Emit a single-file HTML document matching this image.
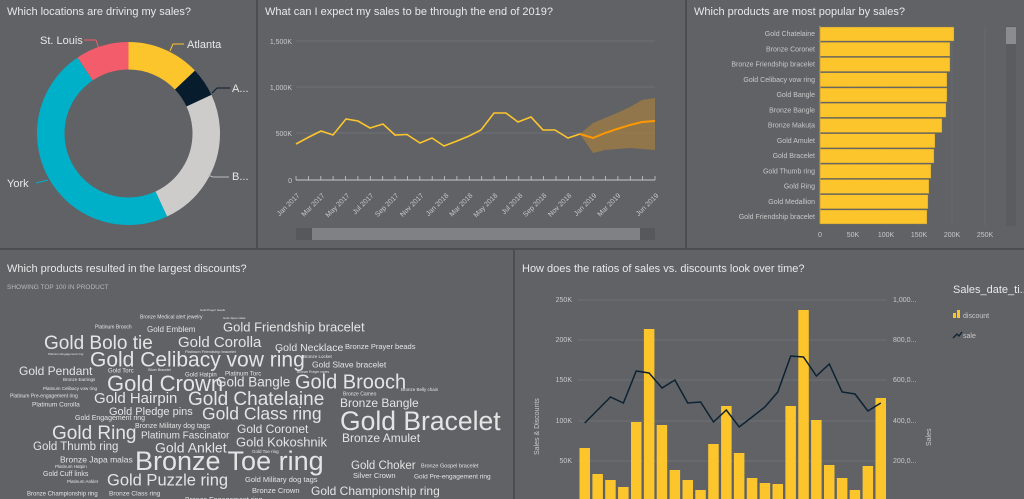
<!DOCTYPE html>
<html><head><meta charset="utf-8"><style>
html,body{margin:0;padding:0;background:#606266;width:1024px;height:499px;overflow:hidden}
svg{display:block;font-family:"Liberation Sans",sans-serif}
.t{fill:#e8e8e8;font-size:11px}
.ax{fill:#c8c8c8;font-size:7px}
.w{fill:#e4e4e4}
</style></head><body>
<svg width="1024" height="499" viewBox="0 0 1024 499">
<rect width="1024" height="499" fill="#606266"/>
<g stroke="#4b4d51" stroke-width="2">
<line x1="257" y1="0" x2="257" y2="249"/><line x1="686" y1="0" x2="686" y2="249"/>
<line x1="0" y1="249" x2="1024" y2="249"/><line x1="514" y1="249" x2="514" y2="499"/>
</g>
<text class="t" x="7" y="15">Which locations are driving my sales?</text>
<g transform="rotate(-90 128.5 133.5)" fill="none" stroke-width="27.5">
<circle cx="128.5" cy="133.5" r="77.75" stroke="#fdc52c" stroke-dasharray="63.2 500"/>
<circle cx="128.5" cy="133.5" r="77.75" stroke="#071c2c" stroke-dasharray="25 500" stroke-dashoffset="-63.2"/>
<circle cx="128.5" cy="133.5" r="77.75" stroke="#cdcccb" stroke-dasharray="122.1 500" stroke-dashoffset="-88.2"/>
<circle cx="128.5" cy="133.5" r="77.75" stroke="#00b0c8" stroke-dasharray="232 500" stroke-dashoffset="-210.3"/>
<circle cx="128.5" cy="133.5" r="77.75" stroke="#f35c6a" stroke-dasharray="46.3 500" stroke-dashoffset="-442.4"/>
</g>
<g fill="none" stroke-width="1">
<polyline points="84,40 96,40 99,49" stroke="#f35c6a"/>
<polyline points="170,51 173,44 184,44" stroke="#fdc52c"/>
<polyline points="212,93 217,88 230,88" stroke="#071c2c"/>
<polyline points="208,175 213,177 229,177" stroke="#bbb"/>
<polyline points="36,183 48,180" stroke="#00b0c8"/>
</g>
<g class="t" font-size="11"><text x="40" y="44">St. Louis</text><text x="187" y="48">Atlanta</text><text x="232" y="92">A...</text><text x="232" y="180">B...</text><text x="7" y="187">York</text></g>

<text class="t" x="265" y="15">What can I expect my sales to be through the end of 2019?</text>
<g stroke="#74767b" stroke-width="0.7"><line x1="296" y1="41" x2="655" y2="41"/><line x1="296" y1="87" x2="655" y2="87"/><line x1="296" y1="133" x2="655" y2="133"/></g>
<g class="ax" text-anchor="end"><text x="292" y="44">1,500K</text><text x="292" y="90">1,000K</text><text x="292" y="136">500K</text><text x="292" y="183">0</text></g>
<line x1="296" y1="180" x2="655" y2="180" stroke="#c8c8c8" stroke-width="1"/>
<g stroke="#c8c8c8" stroke-width="0.8">
<path d="M296 176v4M308.4 176v4M320.8 176v4M333.1 176v4M345.5 176v4M357.9 176v4M370.3 176v4M382.7 176v4M395 176v4M407.4 176v4M419.8 176v4M432.2 176v4M444.6 176v4M456.9 176v4M469.3 176v4M481.7 176v4M494.1 176v4M506.5 176v4M518.8 176v4M531.2 176v4M543.6 176v4M556 176v4M568.4 176v4M580.7 176v4M593.1 176v4M605.5 176v4M617.9 176v4M630.3 176v4M642.6 176v4M655 176v4"/></g>
<path d="M580,134 L593,123 L605,118 L617,113 L630,107 L642,100 L655,98 L655,150 L642,149 L630,148 L617,149 L605,150 L593,153 Z" fill="#9a7a48" opacity="0.85"/>
<polyline fill="none" stroke="#fdc52c" stroke-width="1.6" points="296,144 309,137 321,131 333,135 346,119 358,121 370,128 383,124 395,135 407,134.5 420,143 432,138 444,146 457,141 469,136 481,130 494,113 506,113 518,122 531,117 543,130 555,130 568,138 580,134"/>
<polyline fill="none" stroke="#ff9800" stroke-width="2" points="580,134 593,138 605,133 617,129 630,125 642,122 655,121"/>
<g class="ax" font-size="6.5">
<text transform="translate(300,196) rotate(-45)" text-anchor="end">Jan 2017</text>
<text transform="translate(325,196) rotate(-45)" text-anchor="end">Mar 2017</text>
<text transform="translate(350,196) rotate(-45)" text-anchor="end">May 2017</text>
<text transform="translate(374,196) rotate(-45)" text-anchor="end">Jul 2017</text>
<text transform="translate(399,196) rotate(-45)" text-anchor="end">Sep 2017</text>
<text transform="translate(424,196) rotate(-45)" text-anchor="end">Nov 2017</text>
<text transform="translate(449,196) rotate(-45)" text-anchor="end">Jan 2018</text>
<text transform="translate(473,196) rotate(-45)" text-anchor="end">Mar 2018</text>
<text transform="translate(498,196) rotate(-45)" text-anchor="end">May 2018</text>
<text transform="translate(523,196) rotate(-45)" text-anchor="end">Jul 2018</text>
<text transform="translate(547,196) rotate(-45)" text-anchor="end">Sep 2018</text>
<text transform="translate(572,196) rotate(-45)" text-anchor="end">Nov 2018</text>
<text transform="translate(597,196) rotate(-45)" text-anchor="end">Jan 2019</text>
<text transform="translate(621,196) rotate(-45)" text-anchor="end">Mar 2019</text>
<text transform="translate(659,196) rotate(-45)" text-anchor="end">Jun 2019</text>
</g>
<rect x="296" y="228" width="359" height="12" fill="#56585c"/>
<rect x="312" y="228" width="328" height="12" fill="#7f8185"/>

<text class="t" x="694" y="15">Which products are most popular by sales?</text>
<g stroke="#6e7075" stroke-width="0.7"><line x1="853" y1="26" x2="853" y2="226"/><line x1="886" y1="26" x2="886" y2="226"/><line x1="919" y1="26" x2="919" y2="226"/><line x1="952" y1="26" x2="952" y2="226"/><line x1="985" y1="26" x2="985" y2="226"/></g>
<line x1="820" y1="26" x2="820" y2="224" stroke="#c8c8c8" stroke-width="0.8"/>
<g fill="#fdc52c" stroke="#8a7a4a" stroke-width="0.4">
<rect x="820" y="27" width="134" height="14"/><rect x="820" y="42.3" width="130" height="14"/><rect x="820" y="57.5" width="130" height="14"/><rect x="820" y="72.8" width="127" height="14"/><rect x="820" y="88" width="127" height="14"/><rect x="820" y="103.3" width="126" height="14"/><rect x="820" y="118.5" width="122" height="14"/><rect x="820" y="133.8" width="115" height="14"/><rect x="820" y="149" width="114" height="14"/><rect x="820" y="164.3" width="111" height="14"/><rect x="820" y="179.5" width="109" height="14"/><rect x="820" y="194.8" width="108" height="14"/><rect x="820" y="210" width="107" height="14"/>
</g>
<g class="ax" text-anchor="end" font-size="7" fill="#e0e0e0">
<text x="815" y="36">Gold Chatelaine</text><text x="815" y="51.3">Bronze Coronet</text><text x="815" y="66.5">Bronze Friendship bracelet</text><text x="815" y="81.8">Gold Celibacy vow ring</text><text x="815" y="97">Gold Bangle</text><text x="815" y="112.3">Bronze Bangle</text><text x="815" y="127.5">Bronze Makuṭa</text><text x="815" y="142.8">Gold Amulet</text><text x="815" y="158">Gold Bracelet</text><text x="815" y="173.3">Gold Thumb ring</text><text x="815" y="188.5">Gold Ring</text><text x="815" y="203.8">Gold Medallion</text><text x="815" y="219">Gold Friendship bracelet</text>
</g>
<g class="ax" text-anchor="middle"><text x="820" y="237">0</text><text x="853" y="237">50K</text><text x="886" y="237">100K</text><text x="919" y="237">150K</text><text x="952" y="237">200K</text><text x="985" y="237">250K</text></g>
<rect x="1006" y="26" width="10" height="200" fill="#5a5c60"/>
<rect x="1006" y="27" width="10" height="17" fill="#8a8c90"/>

<text class="t" x="7" y="272">Which products resulted in the largest discounts?</text>
<text x="7" y="289" fill="#b8b8b8" font-size="6.5">SHOWING TOP 100 IN PRODUCT</text>
<g class="w" dominant-baseline="middle">
<text x="200" y="310" font-size="3">Gold Prayer beads</text>
<text x="140" y="317" font-size="5">Bronze Medical alert jewelry</text>
<text x="223" y="318" font-size="3">Gold Japa malas</text>
<text x="95" y="327" font-size="5">Platinum Brooch</text>
<text x="147" y="330" font-size="8">Gold Emblem</text>
<text x="223" y="328" font-size="13">Gold Friendship bracelet</text>
<text x="44" y="344" font-size="19">Gold Bolo tie</text>
<text x="178" y="343" font-size="15">Gold Corolla</text>
<text x="275" y="348" font-size="10.5">Gold Necklace</text>
<text x="345" y="347" font-size="7.5">Bronze Prayer beads</text>
<text x="90" y="361" font-size="21">Gold Celibacy vow ring</text>
<text x="48" y="354" font-size="3">Platinum Engagement ring</text>
<text x="185" y="352" font-size="4">Platinum Friendship bracelet</text>
<text x="303" y="357" font-size="4.5">Bronze Locket</text>
<text x="312" y="365" font-size="8.5">Gold Slave bracelet</text>
<text x="19" y="372" font-size="12">Gold Pendant</text>
<text x="108" y="371" font-size="6">Gold Torc</text>
<text x="148" y="370" font-size="3.5">Silver Bracelet</text>
<text x="185" y="375" font-size="6">Gold Hatpin</text>
<text x="225" y="374" font-size="6">Platinum Torc</text>
<text x="297" y="372" font-size="3.5">Bronze Prayer ropes</text>
<text x="63" y="380" font-size="4.5">Bronze Earrings</text>
<text x="107" y="385" font-size="22">Gold Crown</text>
<text x="216" y="383" font-size="13.5">Gold Bangle</text>
<text x="295" y="383" font-size="20">Gold Brooch</text>
<text x="401" y="390" font-size="4.5">Bronze Belly chain</text>
<text x="43" y="389" font-size="4.5">Platinum Celibacy vow ring</text>
<text x="10" y="396" font-size="5">Platinum Pre-engagement ring</text>
<text x="343" y="394" font-size="5">Bronze Cameo</text>
<text x="94" y="399" font-size="15">Gold Hairpin</text>
<text x="188" y="400" font-size="19">Gold Chatelaine</text>
<text x="340" y="404" font-size="12">Bronze Bangle</text>
<text x="32" y="405" font-size="6.5">Platinum Corolla</text>
<text x="109" y="412" font-size="11">Gold Pledge pins</text>
<text x="202" y="415" font-size="17.5">Gold Class ring</text>
<text x="75" y="418" font-size="7">Gold Engagement ring</text>
<text x="340" y="423" font-size="26.5">Gold Bracelet</text>
<text x="135" y="426" font-size="7">Bronze Military dog tags</text>
<text x="52" y="434" font-size="19">Gold Ring</text>
<text x="141" y="436" font-size="10">Platinum Fascinator</text>
<text x="237" y="430" font-size="12">Gold Coronet</text>
<text x="342" y="439" font-size="12">Bronze Amulet</text>
<text x="33" y="447" font-size="11.5">Gold Thumb ring</text>
<text x="236" y="443" font-size="13">Gold Kokoshnik</text>
<text x="155" y="449" font-size="14">Gold Anklet</text>
<text x="135" y="463" font-size="27">Bronze Toe ring</text>
<text x="60" y="460" font-size="8.5">Bronze Japa malas</text>
<text x="252" y="452" font-size="4.5">Gold Toe ring</text>
<text x="351" y="466" font-size="11.5">Gold Choker</text>
<text x="421" y="466" font-size="5.5">Bronze Gospel bracelet</text>
<text x="353" y="476" font-size="7.5">Silver Crown</text>
<text x="43" y="474" font-size="7">Gold Cuff links</text>
<text x="55" y="467" font-size="4.5">Platinum Hatpin</text>
<text x="67" y="482" font-size="4.5">Platinum Anklet</text>
<text x="107" y="481" font-size="16.5">Gold Puzzle ring</text>
<text x="245" y="480" font-size="7.5">Gold Military dog tags</text>
<text x="414" y="477" font-size="6.5">Gold Pre-engagement ring</text>
<text x="252" y="491" font-size="7.5">Bronze Crown</text>
<text x="311" y="492" font-size="12">Gold Championship ring</text>
<text x="27" y="494" font-size="6">Bronze Championship ring</text>
<text x="109" y="494" font-size="6.5">Bronze Class ring</text>
<text x="185" y="500" font-size="7">Bronze Engagement ring</text>
</g>

<text class="t" x="522" y="272">How does the ratios of sales vs. discounts look over time?</text>
<g stroke="#74767b" stroke-width="0.7"><line x1="578" y1="300" x2="887" y2="300"/><line x1="578" y1="340" x2="887" y2="340"/><line x1="578" y1="380" x2="887" y2="380"/><line x1="578" y1="421" x2="887" y2="421"/><line x1="578" y1="461" x2="887" y2="461"/></g>
<g class="ax" text-anchor="end"><text x="572" y="302">250K</text><text x="572" y="342">200K</text><text x="572" y="382">150K</text><text x="572" y="423">100K</text><text x="572" y="463">50K</text></g>
<g class="ax"><text x="893" y="302">1,000...</text><text x="893" y="342">800,0...</text><text x="893" y="382">600,0...</text><text x="893" y="423">400,0...</text><text x="893" y="463">200,0...</text></g>
<text class="ax" font-size="9.5" transform="translate(539,455) rotate(-90)">Sales &amp; Discounts</text>
<text class="ax" font-size="9.5" transform="translate(931,446) rotate(-90)">Sales</text>
<g fill="#fdc52c">
<rect x="579.5" y="448" width="10.5" height="51"/><rect x="592.4" y="474" width="10.5" height="25"/><rect x="605.2" y="480" width="10.5" height="19"/><rect x="618.1" y="487" width="10.5" height="12"/><rect x="631" y="422" width="10.5" height="77"/><rect x="643.9" y="329" width="10.5" height="170"/><rect x="656.7" y="425" width="10.5" height="74"/><rect x="669.6" y="470" width="10.5" height="29"/><rect x="682.5" y="480" width="10.5" height="19"/><rect x="695.3" y="490" width="10.5" height="9"/><rect x="708.2" y="444" width="10.5" height="55"/><rect x="721.1" y="406" width="10.5" height="93"/><rect x="733.9" y="453" width="10.5" height="46"/><rect x="746.8" y="478" width="10.5" height="21"/><rect x="759.7" y="483" width="10.5" height="16"/><rect x="772.5" y="484" width="10.5" height="15"/><rect x="785.4" y="406" width="10.5" height="93"/><rect x="798.3" y="310" width="10.5" height="189"/><rect x="811.1" y="420" width="10.5" height="79"/><rect x="824" y="465" width="10.5" height="34"/><rect x="836.9" y="478" width="10.5" height="21"/><rect x="849.7" y="490" width="10.5" height="9"/><rect x="862.6" y="466" width="10.5" height="33"/><rect x="875.5" y="398" width="10.5" height="101"/>
</g>
<polyline fill="none" stroke="#0d2232" stroke-width="1.5" points="584.7,423 597.6,410 610.5,397 623.4,403 636.2,371 649.1,373 662,388 674.9,380 687.7,403 700.6,402 713.5,422 726.3,410 739.2,427 752.1,417 764.9,407 777.8,392 790.7,356 803.5,357 816.4,376 829.3,364 842.1,392 855,394 867.9,411 880.8,403"/>
<text class="t" x="953" y="293" font-size="11">Sales_date_ti...</text>
<rect x="953" y="313" width="3" height="5" fill="#fdc52c"/><rect x="957" y="310" width="3" height="8" fill="#fdc52c"/>
<text class="ax" x="963" y="318" font-size="8">discount</text>
<polyline points="953,338 957,334 959,336 962,332" fill="none" stroke="#0d2232" stroke-width="1.3"/>
<text class="ax" x="963" y="338" font-size="8">sale</text>
</svg>
</body></html>
